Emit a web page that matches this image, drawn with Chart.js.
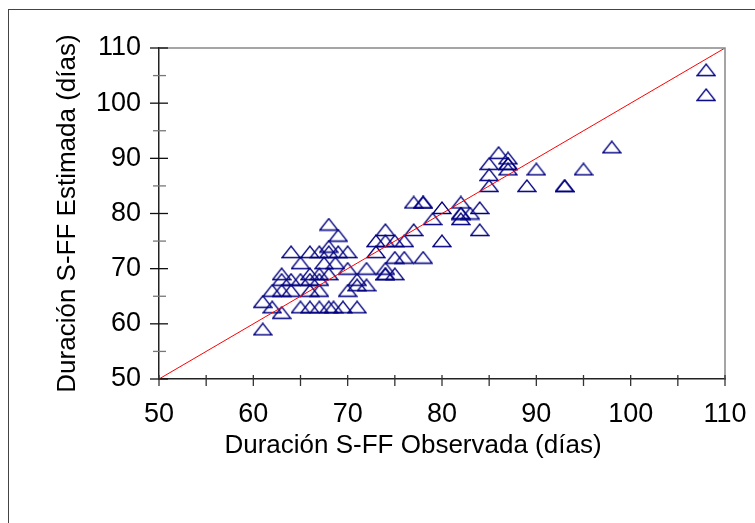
<!DOCTYPE html>
<html>
<head>
<meta charset="utf-8">
<script src="https://cdn.jsdelivr.net/npm/chart.js@4/dist/chart.umd.min.js"></script>
<style>
  html, body { margin: 0; padding: 0; background: #fff; }
  #wrap { position: relative; width: 755px; height: 523px; }
</style>
</head>
<body>
<div id="wrap"><canvas id="chart" width="755" height="523"></canvas></div>
<script>
// observed vs estimated S-FF duration (days)
const observed = [
  61, 61, 62, 63, 62, 63, 64, 63, 64, 63, 65, 66, 67, 66, 67,
  65, 66, 67, 68, 68.5, 69.5, 65, 67.5, 68.7, 66, 67, 68,
  64, 66, 67, 68, 69, 68, 68, 69, 70, 70, 72, 74, 71, 74, 74, 75,
  71, 72, 70, 71, 73, 73, 74, 75, 76, 74, 77, 75, 76, 78,
  77, 78, 78, 80, 79, 82, 82, 82, 82, 83, 84, 84, 80,
  85, 85, 85, 86, 87, 87, 87, 87, 89, 93, 93, 90, 95, 98, 108, 108
];
const estimated = [
  59, 64, 63, 62, 66, 66, 66, 68, 68, 69, 68, 68, 68, 66, 66,
  63, 63, 63, 63, 63, 63, 71, 71, 71, 69, 69, 69,
  73, 73, 73, 73, 73, 74, 78, 76, 73, 70, 70, 70, 68, 69, 69, 69,
  67, 67, 66, 63, 73, 75, 75, 75, 75, 77, 77, 72, 72, 72,
  82, 82, 82, 81, 79, 82, 80, 80, 79, 80, 81, 77, 75,
  85, 87, 89, 91, 90, 89, 89, 88, 85, 85, 85, 88, 88, 92, 106, 101.5
];
const identity = [50, 110];
const xTicks = [50, 60, 70, 80, 90, 100, 110];
const yTicks = [50, 60, 70, 80, 90, 100, 110];
const xTitle = 'Duración S-FF Observada (días)';
const yTitle = 'Duración S-FF Estimada (días)';

const points = observed.map((x, i) => ({ x: x, y: estimated[i] }));
const diag = identity.map(v => ({ x: v, y: v }));

// open triangle marker
const tri = document.createElement('canvas');
tri.width = 20; tri.height = 14;
const tctx = tri.getContext('2d');
tctx.strokeStyle = '#000080';
tctx.lineWidth = 1.3;
tctx.beginPath();
tctx.moveTo(1, 12.5);
tctx.lineTo(10, 1);
tctx.lineTo(19, 12.5);
tctx.closePath();
tctx.stroke();

const FAMILY = '"Liberation Sans", Arial, sans-serif';
const TICK_FONT = { family: FAMILY, size: 27 };
const TITLE_FONT = { family: FAMILY, size: 26 };

// tick marks crossing the axes, outer frame, x title
const decor = {
  id: 'decor',
  beforeDraw(chart) {
    const c = chart.ctx;
    c.save();
    c.strokeStyle = '#444';
    c.lineWidth = 1;
    c.strokeRect(8.5, 9.5, 800, 600);
    c.restore();
  },
  afterDraw(chart) {
    const c = chart.ctx;
    const a = chart.chartArea;
    const xs = chart.scales.x, ys = chart.scales.y;
    c.save();
    // top / right frame
    c.strokeStyle = '#888';
    c.lineWidth = 1.5;
    c.beginPath();
    c.moveTo(a.left, a.top);
    c.lineTo(a.right, a.top);
    c.lineTo(a.right, a.bottom);
    c.stroke();
    c.lineWidth = 1.3;
    for (let v = 50; v <= 110; v += 5) {
      const major = v % 10 === 0;
      c.strokeStyle = major ? '#111' : '#777';
      const py = ys.getPixelForValue(v);
      c.beginPath();
      c.moveTo(a.left - (major ? 9 : 6), py);
      c.lineTo(a.left + (major ? 9 : 7), py);
      c.stroke();
      const px = xs.getPixelForValue(v);
      c.strokeStyle = '#333';
      c.beginPath();
      c.moveTo(px, a.bottom - 4);
      c.lineTo(px, a.bottom + 7);
      c.stroke();
    }
    // x axis title, sits a little left of the plot centre
    c.fillStyle = '#000';
    c.font = TITLE_FONT.size + 'px ' + FAMILY;
    c.textAlign = 'center';
    c.textBaseline = 'middle';
    c.fillText(xTitle, (a.left + a.right) / 2 - 29, a.bottom + 67);
    c.restore();
  }
};

new Chart(document.getElementById('chart'), {
  data: {
    datasets: [
      {
        type: 'line',
        data: diag,
        borderColor: '#ff0000',
        borderWidth: 1,
        pointRadius: 0,
        fill: false
      },
      {
        type: 'scatter',
        data: points,
        pointStyle: tri,
        pointRadius: 9
      }
    ]
  },
  options: {
    responsive: false,
    animation: false,
    events: [],
    layout: { padding: { left: 0, top: 48, right: 30, bottom: 0 } },
    plugins: { legend: { display: false }, tooltip: { enabled: false } },
    scales: {
      x: {
        type: 'linear',
        min: 50, max: 110,
        afterFit(s) { s.height = 144; s.paddingLeft = 0; s.paddingRight = 0; },
        afterBuildTicks(s) { s.ticks = xTicks.map(v => ({ value: v })); },
        grid: { display: false, drawTicks: false },
        border: { display: true, color: '#222', width: 1.5 },
        ticks: { color: '#000', font: TICK_FONT, padding: 19 },
        title: { display: false }
      },
      y: {
        type: 'linear',
        min: 50, max: 110,
        afterFit(s) { s.width = 159; s.paddingTop = 0; s.paddingBottom = 0; },
        afterBuildTicks(s) { s.ticks = yTicks.map(v => ({ value: v })); },
        grid: { display: false, drawTicks: false },
        border: { display: true, color: '#222', width: 1.5 },
        ticks: { color: '#000', font: TICK_FONT, padding: 18 },
        title: {
          display: true,
          text: yTitle,
          color: '#000',
          font: TITLE_FONT,
          padding: { top: 52 }
        }
      }
    }
  },
  plugins: [decor]
});
</script>
</body>
</html>
